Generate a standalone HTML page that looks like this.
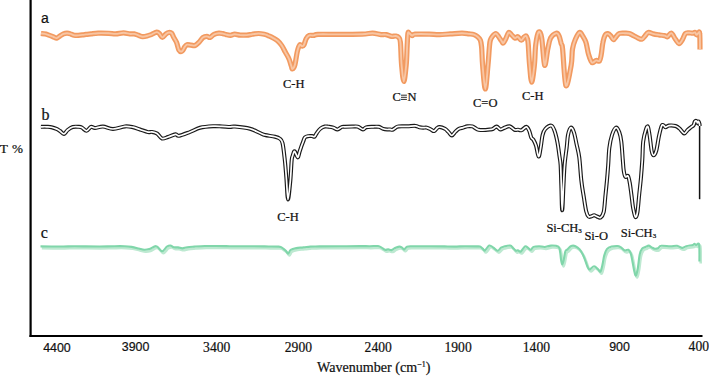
<!DOCTYPE html>
<html><head><meta charset="utf-8"><style>
html,body{margin:0;padding:0;background:#fff;}
body{width:709px;height:376px;overflow:hidden;position:relative;}
svg{position:absolute;left:0;top:0;}
.s{font-family:"Liberation Serif",serif;fill:#111;}
.n{font-family:"Liberation Sans",sans-serif;fill:#111;}
</style></head><body>
<svg width="709" height="376" viewBox="0 0 709 376">
<rect x="29.5" y="0" width="2.2" height="337" fill="#000"/>
<rect x="29.5" y="335" width="673" height="2" fill="#000"/>
<g fill="none" stroke-linejoin="round" stroke-linecap="butt">
<path d="M40.9,33.5 C41.6,33.6 43.7,33.5 45.2,33.9 C46.7,34.2 48.7,35.1 50.1,35.6 C51.5,36.1 52.5,36.6 53.6,37.0 C54.7,37.4 55.7,38.3 56.8,38.1 C57.9,37.9 58.9,36.7 60.0,36.0 C61.1,35.3 62.3,34.4 63.5,33.9 C64.7,33.4 65.8,33.2 67.0,33.2 C68.2,33.2 69.4,33.5 70.6,33.9 C71.8,34.2 72.8,35.0 74.1,35.3 C75.4,35.5 76.9,35.5 78.3,35.4 C79.7,35.3 81.2,35.1 82.5,34.9 C83.8,34.7 84.6,34.6 86.0,34.4 C87.4,34.2 89.0,34.1 91.0,33.9 C93.0,33.7 95.1,33.3 98.1,33.2 C101.0,33.1 105.8,33.2 108.7,33.3 C111.6,33.4 113.2,34.0 115.7,33.9 C118.2,33.8 121.2,32.8 123.5,32.8 C125.8,32.8 128.0,33.7 129.8,33.9 C131.6,34.1 132.8,33.7 134.2,33.9 C135.6,34.1 137.1,34.8 138.5,35.3 C139.9,35.8 141.3,36.6 142.7,36.7 C144.1,36.8 145.5,36.4 146.9,36.0 C148.3,35.6 149.5,35.2 151.2,34.6 C152.8,34.0 155.4,32.2 156.8,32.1 C158.2,32.0 158.7,33.0 159.6,33.9 C160.5,34.8 161.3,37.4 162.4,37.4 C163.5,37.4 164.9,34.7 166.0,33.9 C167.1,33.1 167.9,32.6 168.8,32.5 C169.7,32.4 170.8,32.4 171.6,33.2 C172.4,34.0 172.9,35.9 173.7,37.4 C174.5,38.9 175.6,40.2 176.5,42.3 C177.4,44.4 178.1,48.7 179.0,50.2 C179.9,51.7 181.3,51.6 182.2,51.1 C183.1,50.6 183.8,48.2 184.6,47.1 C185.4,46.0 185.9,45.0 187.0,44.7 C188.1,44.4 189.7,45.0 191.0,45.1 C192.3,45.2 193.7,46.0 195.0,45.5 C196.3,45.0 197.6,43.7 198.9,42.4 C200.2,41.1 201.6,38.6 202.9,37.6 C204.2,36.6 205.7,36.4 206.9,36.4 C208.1,36.4 208.9,37.7 210.1,37.4 C211.3,37.1 212.6,35.1 214.1,34.4 C215.6,33.7 217.4,33.3 218.9,33.2 C220.4,33.1 221.6,33.4 222.8,33.6 C224.0,33.8 224.9,34.3 226.2,34.6 C227.5,34.9 229.1,35.4 230.5,35.3 C231.9,35.2 233.1,34.2 234.7,34.2 C236.3,34.2 238.3,35.0 240.3,35.1 C242.3,35.2 244.7,35.2 246.7,35.1 C248.7,35.0 250.3,34.5 252.3,34.2 C254.3,33.9 256.7,33.5 258.7,33.5 C260.7,33.5 262.8,33.9 264.3,34.2 C265.9,34.6 266.6,35.0 268.0,35.6 C269.4,36.2 271.2,36.9 272.8,37.8 C274.4,38.7 276.1,39.5 277.6,40.8 C279.1,42.1 280.5,43.7 281.8,45.6 C283.1,47.5 284.1,49.9 285.3,52.1 C286.5,54.3 287.9,56.4 288.9,58.7 C289.9,61.0 290.7,64.2 291.3,65.9 C291.9,67.6 291.9,69.1 292.5,68.9 C293.1,68.7 294.1,67.6 294.9,64.7 C295.7,61.8 296.5,54.8 297.3,51.5 C298.1,48.2 298.9,45.9 299.7,45.0 C300.5,44.1 301.4,46.1 302.1,46.1 C302.8,46.1 303.2,46.3 303.9,45.0 C304.6,43.7 305.4,40.0 306.3,38.4 C307.2,36.8 308.1,35.9 309.3,35.4 C310.5,34.9 312.1,35.6 313.5,35.4 C314.9,35.2 314.2,34.6 318.0,34.4 C321.8,34.2 328.7,34.4 336.0,34.4 C343.3,34.4 355.9,34.4 362.0,34.2 C368.1,34.0 369.4,33.1 372.6,33.2 C375.8,33.3 378.8,34.4 381.0,34.6 C383.2,34.8 384.2,34.3 386.0,34.6 C387.8,34.9 390.0,36.1 391.6,36.3 C393.2,36.5 394.7,35.8 395.9,36.0 C397.1,36.2 397.9,36.4 398.7,37.4 C399.4,38.4 399.9,37.7 400.4,42.3 C400.9,46.9 401.0,58.5 401.6,65.0 C402.2,71.5 403.0,81.5 403.8,81.5 C404.6,81.5 405.6,71.1 406.2,65.0 C406.8,58.9 406.9,50.3 407.2,45.0 C407.5,39.7 407.6,34.9 408.0,33.0 C408.4,31.1 408.7,33.0 409.4,33.4 C410.1,33.8 411.3,35.5 412.2,35.6 C413.1,35.7 412.2,34.4 415.0,34.2 C417.8,34.0 425.1,34.1 429.2,34.2 C433.3,34.3 436.2,34.7 439.7,34.6 C443.2,34.5 446.6,34.1 450.3,33.9 C454.0,33.7 458.9,33.2 462.0,33.2 C465.1,33.2 467.1,33.7 469.1,33.9 C471.1,34.1 472.6,34.1 474.0,34.6 C475.4,35.1 476.5,35.8 477.6,36.7 C478.7,37.6 479.7,38.5 480.4,40.2 C481.1,41.9 481.2,42.9 481.6,47.0 C482.0,51.1 482.0,58.0 482.6,65.0 C483.2,72.0 484.4,89.0 485.3,89.0 C486.2,89.0 487.3,72.0 488.0,65.0 C488.7,58.0 489.0,51.1 489.4,47.0 C489.8,42.9 489.8,42.0 490.3,40.2 C490.8,38.4 491.5,37.4 492.4,36.3 C493.3,35.2 494.8,33.4 495.9,33.5 C496.9,33.6 497.8,35.5 498.7,36.7 C499.6,37.9 500.7,39.9 501.5,40.9 C502.3,41.9 502.6,43.4 503.3,43.0 C504.0,42.6 504.9,40.5 505.8,38.8 C506.7,37.0 507.7,33.2 508.6,32.5 C509.5,31.8 510.3,33.7 511.4,34.6 C512.4,35.5 513.8,37.8 514.9,38.1 C516.0,38.5 516.6,36.4 517.7,36.7 C518.8,37.1 520.2,40.2 521.3,40.2 C522.4,40.2 523.3,37.7 524.1,37.0 C524.9,36.3 525.6,35.6 526.2,36.0 C526.8,36.4 527.2,38.0 527.6,39.5 C528.0,41.0 528.0,40.8 528.3,45.0 C528.6,49.2 529.0,58.8 529.6,65.0 C530.2,71.2 530.9,82.2 531.7,82.2 C532.5,82.2 533.7,71.2 534.4,65.0 C535.1,58.8 535.0,50.5 535.7,45.0 C536.4,39.5 537.6,33.2 538.6,32.1 C539.6,31.0 540.7,32.6 541.7,38.1 C542.7,43.6 543.6,63.4 544.6,65.2 C545.6,67.0 546.8,53.5 547.8,49.0 C548.8,44.5 549.2,40.7 550.6,38.1 C552.0,35.5 554.9,33.6 556.3,33.2 C557.7,32.9 558.3,34.2 559.1,36.0 C559.9,37.8 560.6,41.5 561.2,43.7 C561.8,45.9 561.8,42.0 562.6,49.0 C563.4,56.0 564.5,82.9 565.9,85.6 C567.3,88.3 570.1,71.1 571.2,65.0 C572.3,58.9 571.8,53.2 572.5,49.0 C573.2,44.8 574.1,42.2 575.3,39.5 C576.5,36.8 578.3,33.0 579.6,32.5 C580.9,32.0 582.1,35.1 583.1,36.7 C584.1,38.3 585.0,39.5 585.9,42.3 C586.8,45.1 587.5,50.5 588.4,53.7 C589.3,56.9 590.5,60.0 591.2,61.5 C591.9,63.0 592.0,62.8 592.8,62.6 C593.6,62.4 595.1,60.7 596.2,60.4 C597.3,60.1 598.7,61.8 599.5,60.9 C600.3,60.0 600.6,57.9 601.2,54.8 C601.8,51.7 602.2,45.8 602.9,42.5 C603.5,39.2 604.3,36.8 605.1,35.3 C605.9,33.8 607.0,33.5 607.9,33.6 C608.8,33.7 609.8,34.8 610.7,35.8 C611.6,36.8 612.6,39.6 613.5,39.7 C614.4,39.8 615.3,37.5 616.3,36.4 C617.3,35.3 618.1,33.9 619.6,33.4 C621.1,32.9 623.4,33.2 625.0,33.2 C626.6,33.2 627.8,33.1 629.2,33.5 C630.6,33.9 632.1,34.9 633.5,35.6 C634.9,36.3 636.3,37.2 637.7,37.8 C639.1,38.4 640.7,39.5 641.9,39.2 C643.1,39.0 643.6,37.4 644.7,36.3 C645.8,35.2 646.9,32.9 648.3,32.5 C649.7,32.1 651.4,33.5 653.2,33.9 C655.0,34.3 657.0,34.6 658.9,34.9 C660.8,35.2 663.1,35.3 664.5,35.6 C665.9,35.9 666.2,37.2 667.4,36.8 C668.5,36.4 670.1,32.8 671.4,33.2 C672.7,33.6 674.1,37.5 675.4,39.2 C676.7,40.9 677.9,43.5 679.0,43.6 C680.1,43.7 681.1,41.7 682.2,40.0 C683.3,38.3 684.3,34.8 685.4,33.6 C686.5,32.4 687.8,32.9 689.0,32.8 C690.2,32.7 691.6,33.3 692.6,33.2 C693.6,33.1 694.4,32.1 695.0,32.4 C695.6,32.7 695.9,34.7 696.5,34.8 C697.1,34.9 698.0,33.0 698.5,32.8 C699.0,32.6 699.5,30.8 699.7,33.6 C700.0,36.4 700.0,46.9 700.0,49.6" stroke="#f29a60" stroke-width="5.2"/>
<path d="M40.9,33.5 C41.6,33.6 43.7,33.5 45.2,33.9 C46.7,34.2 48.7,35.1 50.1,35.6 C51.5,36.1 52.5,36.6 53.6,37.0 C54.7,37.4 55.7,38.3 56.8,38.1 C57.9,37.9 58.9,36.7 60.0,36.0 C61.1,35.3 62.3,34.4 63.5,33.9 C64.7,33.4 65.8,33.2 67.0,33.2 C68.2,33.2 69.4,33.5 70.6,33.9 C71.8,34.2 72.8,35.0 74.1,35.3 C75.4,35.5 76.9,35.5 78.3,35.4 C79.7,35.3 81.2,35.1 82.5,34.9 C83.8,34.7 84.6,34.6 86.0,34.4 C87.4,34.2 89.0,34.1 91.0,33.9 C93.0,33.7 95.1,33.3 98.1,33.2 C101.0,33.1 105.8,33.2 108.7,33.3 C111.6,33.4 113.2,34.0 115.7,33.9 C118.2,33.8 121.2,32.8 123.5,32.8 C125.8,32.8 128.0,33.7 129.8,33.9 C131.6,34.1 132.8,33.7 134.2,33.9 C135.6,34.1 137.1,34.8 138.5,35.3 C139.9,35.8 141.3,36.6 142.7,36.7 C144.1,36.8 145.5,36.4 146.9,36.0 C148.3,35.6 149.5,35.2 151.2,34.6 C152.8,34.0 155.4,32.2 156.8,32.1 C158.2,32.0 158.7,33.0 159.6,33.9 C160.5,34.8 161.3,37.4 162.4,37.4 C163.5,37.4 164.9,34.7 166.0,33.9 C167.1,33.1 167.9,32.6 168.8,32.5 C169.7,32.4 170.8,32.4 171.6,33.2 C172.4,34.0 172.9,35.9 173.7,37.4 C174.5,38.9 175.6,40.2 176.5,42.3 C177.4,44.4 178.1,48.7 179.0,50.2 C179.9,51.7 181.3,51.6 182.2,51.1 C183.1,50.6 183.8,48.2 184.6,47.1 C185.4,46.0 185.9,45.0 187.0,44.7 C188.1,44.4 189.7,45.0 191.0,45.1 C192.3,45.2 193.7,46.0 195.0,45.5 C196.3,45.0 197.6,43.7 198.9,42.4 C200.2,41.1 201.6,38.6 202.9,37.6 C204.2,36.6 205.7,36.4 206.9,36.4 C208.1,36.4 208.9,37.7 210.1,37.4 C211.3,37.1 212.6,35.1 214.1,34.4 C215.6,33.7 217.4,33.3 218.9,33.2 C220.4,33.1 221.6,33.4 222.8,33.6 C224.0,33.8 224.9,34.3 226.2,34.6 C227.5,34.9 229.1,35.4 230.5,35.3 C231.9,35.2 233.1,34.2 234.7,34.2 C236.3,34.2 238.3,35.0 240.3,35.1 C242.3,35.2 244.7,35.2 246.7,35.1 C248.7,35.0 250.3,34.5 252.3,34.2 C254.3,33.9 256.7,33.5 258.7,33.5 C260.7,33.5 262.8,33.9 264.3,34.2 C265.9,34.6 266.6,35.0 268.0,35.6 C269.4,36.2 271.2,36.9 272.8,37.8 C274.4,38.7 276.1,39.5 277.6,40.8 C279.1,42.1 280.5,43.7 281.8,45.6 C283.1,47.5 284.1,49.9 285.3,52.1 C286.5,54.3 287.9,56.4 288.9,58.7 C289.9,61.0 290.7,64.2 291.3,65.9 C291.9,67.6 291.9,69.1 292.5,68.9 C293.1,68.7 294.1,67.6 294.9,64.7 C295.7,61.8 296.5,54.8 297.3,51.5 C298.1,48.2 298.9,45.9 299.7,45.0 C300.5,44.1 301.4,46.1 302.1,46.1 C302.8,46.1 303.2,46.3 303.9,45.0 C304.6,43.7 305.4,40.0 306.3,38.4 C307.2,36.8 308.1,35.9 309.3,35.4 C310.5,34.9 312.1,35.6 313.5,35.4 C314.9,35.2 314.2,34.6 318.0,34.4 C321.8,34.2 328.7,34.4 336.0,34.4 C343.3,34.4 355.9,34.4 362.0,34.2 C368.1,34.0 369.4,33.1 372.6,33.2 C375.8,33.3 378.8,34.4 381.0,34.6 C383.2,34.8 384.2,34.3 386.0,34.6 C387.8,34.9 390.0,36.1 391.6,36.3 C393.2,36.5 394.7,35.8 395.9,36.0 C397.1,36.2 397.9,36.4 398.7,37.4 C399.4,38.4 399.9,37.7 400.4,42.3 C400.9,46.9 401.0,58.5 401.6,65.0 C402.2,71.5 403.0,81.5 403.8,81.5 C404.6,81.5 405.6,71.1 406.2,65.0 C406.8,58.9 406.9,50.3 407.2,45.0 C407.5,39.7 407.6,34.9 408.0,33.0 C408.4,31.1 408.7,33.0 409.4,33.4 C410.1,33.8 411.3,35.5 412.2,35.6 C413.1,35.7 412.2,34.4 415.0,34.2 C417.8,34.0 425.1,34.1 429.2,34.2 C433.3,34.3 436.2,34.7 439.7,34.6 C443.2,34.5 446.6,34.1 450.3,33.9 C454.0,33.7 458.9,33.2 462.0,33.2 C465.1,33.2 467.1,33.7 469.1,33.9 C471.1,34.1 472.6,34.1 474.0,34.6 C475.4,35.1 476.5,35.8 477.6,36.7 C478.7,37.6 479.7,38.5 480.4,40.2 C481.1,41.9 481.2,42.9 481.6,47.0 C482.0,51.1 482.0,58.0 482.6,65.0 C483.2,72.0 484.4,89.0 485.3,89.0 C486.2,89.0 487.3,72.0 488.0,65.0 C488.7,58.0 489.0,51.1 489.4,47.0 C489.8,42.9 489.8,42.0 490.3,40.2 C490.8,38.4 491.5,37.4 492.4,36.3 C493.3,35.2 494.8,33.4 495.9,33.5 C496.9,33.6 497.8,35.5 498.7,36.7 C499.6,37.9 500.7,39.9 501.5,40.9 C502.3,41.9 502.6,43.4 503.3,43.0 C504.0,42.6 504.9,40.5 505.8,38.8 C506.7,37.0 507.7,33.2 508.6,32.5 C509.5,31.8 510.3,33.7 511.4,34.6 C512.4,35.5 513.8,37.8 514.9,38.1 C516.0,38.5 516.6,36.4 517.7,36.7 C518.8,37.1 520.2,40.2 521.3,40.2 C522.4,40.2 523.3,37.7 524.1,37.0 C524.9,36.3 525.6,35.6 526.2,36.0 C526.8,36.4 527.2,38.0 527.6,39.5 C528.0,41.0 528.0,40.8 528.3,45.0 C528.6,49.2 529.0,58.8 529.6,65.0 C530.2,71.2 530.9,82.2 531.7,82.2 C532.5,82.2 533.7,71.2 534.4,65.0 C535.1,58.8 535.0,50.5 535.7,45.0 C536.4,39.5 537.6,33.2 538.6,32.1 C539.6,31.0 540.7,32.6 541.7,38.1 C542.7,43.6 543.6,63.4 544.6,65.2 C545.6,67.0 546.8,53.5 547.8,49.0 C548.8,44.5 549.2,40.7 550.6,38.1 C552.0,35.5 554.9,33.6 556.3,33.2 C557.7,32.9 558.3,34.2 559.1,36.0 C559.9,37.8 560.6,41.5 561.2,43.7 C561.8,45.9 561.8,42.0 562.6,49.0 C563.4,56.0 564.5,82.9 565.9,85.6 C567.3,88.3 570.1,71.1 571.2,65.0 C572.3,58.9 571.8,53.2 572.5,49.0 C573.2,44.8 574.1,42.2 575.3,39.5 C576.5,36.8 578.3,33.0 579.6,32.5 C580.9,32.0 582.1,35.1 583.1,36.7 C584.1,38.3 585.0,39.5 585.9,42.3 C586.8,45.1 587.5,50.5 588.4,53.7 C589.3,56.9 590.5,60.0 591.2,61.5 C591.9,63.0 592.0,62.8 592.8,62.6 C593.6,62.4 595.1,60.7 596.2,60.4 C597.3,60.1 598.7,61.8 599.5,60.9 C600.3,60.0 600.6,57.9 601.2,54.8 C601.8,51.7 602.2,45.8 602.9,42.5 C603.5,39.2 604.3,36.8 605.1,35.3 C605.9,33.8 607.0,33.5 607.9,33.6 C608.8,33.7 609.8,34.8 610.7,35.8 C611.6,36.8 612.6,39.6 613.5,39.7 C614.4,39.8 615.3,37.5 616.3,36.4 C617.3,35.3 618.1,33.9 619.6,33.4 C621.1,32.9 623.4,33.2 625.0,33.2 C626.6,33.2 627.8,33.1 629.2,33.5 C630.6,33.9 632.1,34.9 633.5,35.6 C634.9,36.3 636.3,37.2 637.7,37.8 C639.1,38.4 640.7,39.5 641.9,39.2 C643.1,39.0 643.6,37.4 644.7,36.3 C645.8,35.2 646.9,32.9 648.3,32.5 C649.7,32.1 651.4,33.5 653.2,33.9 C655.0,34.3 657.0,34.6 658.9,34.9 C660.8,35.2 663.1,35.3 664.5,35.6 C665.9,35.9 666.2,37.2 667.4,36.8 C668.5,36.4 670.1,32.8 671.4,33.2 C672.7,33.6 674.1,37.5 675.4,39.2 C676.7,40.9 677.9,43.5 679.0,43.6 C680.1,43.7 681.1,41.7 682.2,40.0 C683.3,38.3 684.3,34.8 685.4,33.6 C686.5,32.4 687.8,32.9 689.0,32.8 C690.2,32.7 691.6,33.3 692.6,33.2 C693.6,33.1 694.4,32.1 695.0,32.4 C695.6,32.7 695.9,34.7 696.5,34.8 C697.1,34.9 698.0,33.0 698.5,32.8 C699.0,32.6 699.5,30.8 699.7,33.6 C700.0,36.4 700.0,46.9 700.0,49.6" stroke="#f8c6a4" stroke-width="1.9"/>
<path d="M40.9,247.4 C44.1,247.4 54.3,247.5 60.0,247.5 C65.7,247.5 70.7,247.2 75.0,247.2 C79.3,247.2 81.8,247.3 86.0,247.4 C90.2,247.5 95.2,247.5 100.0,247.5 C104.8,247.5 110.8,247.2 115.0,247.2 C119.2,247.1 122.2,247.1 125.0,247.2 C127.8,247.3 129.7,247.5 132.0,247.9 C134.3,248.3 137.0,249.0 139.1,249.5 C141.2,250.0 142.9,250.7 144.7,250.8 C146.5,250.9 147.7,250.7 149.7,250.1 C151.7,249.5 154.6,246.8 156.7,247.2 C158.8,247.5 160.6,252.1 162.4,252.2 C164.2,252.3 165.9,248.5 167.3,247.6 C168.7,246.7 169.7,246.4 170.8,246.5 C172.0,246.6 172.9,247.9 174.2,248.2 C175.5,248.5 177.1,248.2 178.5,248.4 C179.9,248.6 181.2,249.4 182.7,249.4 C184.2,249.4 185.6,248.5 187.6,248.2 C189.6,247.9 191.8,247.8 194.7,247.6 C197.6,247.4 201.8,247.1 205.3,247.0 C208.8,246.9 211.7,247.0 215.8,247.0 C219.9,247.0 224.3,247.1 230.0,247.2 C235.7,247.2 244.2,247.3 250.0,247.3 C255.8,247.3 260.1,247.3 265.0,247.4 C269.9,247.5 276.1,247.3 279.1,247.6 C282.2,247.9 282.1,248.7 283.3,249.4 C284.5,250.1 285.3,250.9 286.2,251.8 C287.1,252.7 287.8,254.8 288.6,254.6 C289.4,254.4 289.8,251.7 291.1,250.8 C292.5,249.9 294.6,249.5 296.7,249.1 C298.8,248.7 301.4,248.7 303.8,248.4 C306.2,248.2 308.1,247.8 310.8,247.6 C313.5,247.4 315.1,247.5 320.0,247.4 C324.9,247.3 333.3,247.3 340.0,247.3 C346.7,247.2 355.0,247.1 360.0,247.1 C365.0,247.1 366.9,247.2 370.0,247.2 C373.1,247.2 376.5,246.8 378.5,247.0 C380.5,247.2 380.8,248.0 382.0,248.6 C383.2,249.2 384.4,250.5 385.5,250.8 C386.6,251.1 387.6,250.3 388.7,250.4 C389.8,250.5 390.8,251.3 391.9,251.1 C393.0,250.9 394.1,249.6 395.4,249.0 C396.7,248.4 398.4,247.7 399.6,247.6 C400.8,247.5 401.6,248.1 402.4,248.6 C403.2,249.1 403.8,250.6 404.6,250.4 C405.4,250.2 406.1,248.2 407.4,247.7 C408.7,247.2 408.5,247.3 412.3,247.2 C416.1,247.1 424.6,247.3 430.0,247.3 C435.4,247.3 440.8,247.3 445.0,247.4 C449.2,247.5 451.6,247.6 455.0,247.6 C458.4,247.6 462.1,247.2 465.6,247.2 C469.1,247.2 473.7,247.3 476.2,247.4 C478.7,247.5 479.2,247.2 480.4,247.6 C481.6,248.0 482.4,249.0 483.2,249.7 C484.0,250.3 484.2,252.0 485.3,251.5 C486.4,251.0 488.2,247.0 489.6,246.5 C491.0,246.0 492.4,247.7 493.8,248.6 C495.2,249.5 496.7,251.8 498.0,251.8 C499.3,251.8 500.5,249.3 501.5,248.6 C502.5,247.9 502.7,247.9 504.2,247.6 C505.7,247.2 509.1,246.3 510.6,246.5 C512.1,246.7 512.5,248.0 513.4,248.9 C514.3,249.8 515.4,251.3 516.2,251.7 C517.0,252.1 517.5,251.2 518.3,251.3 C519.1,251.4 520.0,253.2 521.2,252.5 C522.4,251.8 524.2,248.1 525.4,247.4 C526.6,246.8 527.3,248.0 528.2,248.6 C529.1,249.2 530.0,250.9 531.0,250.8 C532.0,250.7 532.5,248.5 533.9,247.9 C535.3,247.3 537.6,247.2 539.5,247.2 C541.4,247.2 543.1,248.1 545.1,248.0 C547.1,247.9 549.1,246.7 551.4,246.6 C553.7,246.5 557.3,246.7 558.8,247.7 C560.3,248.7 559.9,250.3 560.4,252.5 C560.9,254.7 561.1,258.8 561.5,261.0 C561.9,263.2 562.2,265.5 562.6,265.5 C563.0,265.5 563.6,263.2 564.1,261.0 C564.6,258.8 565.1,254.3 565.7,252.5 C566.3,250.7 566.9,251.3 567.9,250.4 C568.9,249.5 570.3,247.5 571.6,247.0 C572.9,246.5 574.5,246.6 575.9,247.2 C577.3,247.8 578.9,249.0 580.1,250.4 C581.3,251.8 582.4,254.0 583.3,255.7 C584.2,257.5 584.6,258.8 585.4,260.9 C586.2,263.0 587.3,266.7 588.1,268.3 C588.9,269.9 589.1,270.7 590.2,270.5 C591.3,270.3 593.1,267.3 594.5,267.3 C595.9,267.3 597.6,269.6 598.7,270.5 C599.8,271.4 600.2,273.5 600.9,272.6 C601.6,271.7 602.4,267.8 603.0,265.1 C603.6,262.4 603.9,259.1 604.6,256.6 C605.3,254.1 606.1,251.7 607.3,250.2 C608.5,248.7 610.2,248.1 612.0,247.6 C613.8,247.1 616.5,246.9 618.0,247.0 C619.5,247.1 619.8,247.4 621.0,248.1 C622.2,248.8 623.9,251.0 625.2,251.4 C626.5,251.8 627.8,250.3 628.8,250.8 C629.8,251.3 630.4,252.3 631.1,254.3 C631.8,256.3 632.3,259.7 632.9,262.7 C633.5,265.7 634.1,270.0 634.7,272.3 C635.3,274.6 635.7,277.1 636.3,276.5 C636.9,275.9 637.7,272.2 638.3,268.7 C638.9,265.2 639.4,258.7 640.1,255.5 C640.8,252.3 641.5,250.9 642.5,249.6 C643.5,248.3 645.0,248.3 646.1,247.8 C647.2,247.3 648.1,246.5 649.1,246.6 C650.1,246.7 651.1,247.9 652.1,248.4 C653.1,248.9 654.0,249.5 655.0,249.7 C656.0,249.8 657.2,249.8 658.3,249.3 C659.4,248.8 659.5,247.1 661.6,246.8 C663.7,246.4 668.1,247.2 670.8,247.2 C673.4,247.2 675.6,246.5 677.5,246.8 C679.4,247.1 680.9,248.8 682.4,248.9 C683.9,249.0 684.8,247.7 686.6,247.2 C688.4,246.7 691.9,246.4 693.3,246.0 C694.7,245.6 694.3,244.8 694.9,244.8 C695.5,244.8 695.8,245.9 696.6,246.0 C697.4,246.1 699.0,242.8 699.5,245.6 C700.0,248.4 699.8,259.8 699.8,262.6" stroke="#bde9d1" stroke-width="2.6" transform="translate(0.9,0.9)"/>
<path d="M40.9,247.4 C44.1,247.4 54.3,247.5 60.0,247.5 C65.7,247.5 70.7,247.2 75.0,247.2 C79.3,247.2 81.8,247.3 86.0,247.4 C90.2,247.5 95.2,247.5 100.0,247.5 C104.8,247.5 110.8,247.2 115.0,247.2 C119.2,247.1 122.2,247.1 125.0,247.2 C127.8,247.3 129.7,247.5 132.0,247.9 C134.3,248.3 137.0,249.0 139.1,249.5 C141.2,250.0 142.9,250.7 144.7,250.8 C146.5,250.9 147.7,250.7 149.7,250.1 C151.7,249.5 154.6,246.8 156.7,247.2 C158.8,247.5 160.6,252.1 162.4,252.2 C164.2,252.3 165.9,248.5 167.3,247.6 C168.7,246.7 169.7,246.4 170.8,246.5 C172.0,246.6 172.9,247.9 174.2,248.2 C175.5,248.5 177.1,248.2 178.5,248.4 C179.9,248.6 181.2,249.4 182.7,249.4 C184.2,249.4 185.6,248.5 187.6,248.2 C189.6,247.9 191.8,247.8 194.7,247.6 C197.6,247.4 201.8,247.1 205.3,247.0 C208.8,246.9 211.7,247.0 215.8,247.0 C219.9,247.0 224.3,247.1 230.0,247.2 C235.7,247.2 244.2,247.3 250.0,247.3 C255.8,247.3 260.1,247.3 265.0,247.4 C269.9,247.5 276.1,247.3 279.1,247.6 C282.2,247.9 282.1,248.7 283.3,249.4 C284.5,250.1 285.3,250.9 286.2,251.8 C287.1,252.7 287.8,254.8 288.6,254.6 C289.4,254.4 289.8,251.7 291.1,250.8 C292.5,249.9 294.6,249.5 296.7,249.1 C298.8,248.7 301.4,248.7 303.8,248.4 C306.2,248.2 308.1,247.8 310.8,247.6 C313.5,247.4 315.1,247.5 320.0,247.4 C324.9,247.3 333.3,247.3 340.0,247.3 C346.7,247.2 355.0,247.1 360.0,247.1 C365.0,247.1 366.9,247.2 370.0,247.2 C373.1,247.2 376.5,246.8 378.5,247.0 C380.5,247.2 380.8,248.0 382.0,248.6 C383.2,249.2 384.4,250.5 385.5,250.8 C386.6,251.1 387.6,250.3 388.7,250.4 C389.8,250.5 390.8,251.3 391.9,251.1 C393.0,250.9 394.1,249.6 395.4,249.0 C396.7,248.4 398.4,247.7 399.6,247.6 C400.8,247.5 401.6,248.1 402.4,248.6 C403.2,249.1 403.8,250.6 404.6,250.4 C405.4,250.2 406.1,248.2 407.4,247.7 C408.7,247.2 408.5,247.3 412.3,247.2 C416.1,247.1 424.6,247.3 430.0,247.3 C435.4,247.3 440.8,247.3 445.0,247.4 C449.2,247.5 451.6,247.6 455.0,247.6 C458.4,247.6 462.1,247.2 465.6,247.2 C469.1,247.2 473.7,247.3 476.2,247.4 C478.7,247.5 479.2,247.2 480.4,247.6 C481.6,248.0 482.4,249.0 483.2,249.7 C484.0,250.3 484.2,252.0 485.3,251.5 C486.4,251.0 488.2,247.0 489.6,246.5 C491.0,246.0 492.4,247.7 493.8,248.6 C495.2,249.5 496.7,251.8 498.0,251.8 C499.3,251.8 500.5,249.3 501.5,248.6 C502.5,247.9 502.7,247.9 504.2,247.6 C505.7,247.2 509.1,246.3 510.6,246.5 C512.1,246.7 512.5,248.0 513.4,248.9 C514.3,249.8 515.4,251.3 516.2,251.7 C517.0,252.1 517.5,251.2 518.3,251.3 C519.1,251.4 520.0,253.2 521.2,252.5 C522.4,251.8 524.2,248.1 525.4,247.4 C526.6,246.8 527.3,248.0 528.2,248.6 C529.1,249.2 530.0,250.9 531.0,250.8 C532.0,250.7 532.5,248.5 533.9,247.9 C535.3,247.3 537.6,247.2 539.5,247.2 C541.4,247.2 543.1,248.1 545.1,248.0 C547.1,247.9 549.1,246.7 551.4,246.6 C553.7,246.5 557.3,246.7 558.8,247.7 C560.3,248.7 559.9,250.3 560.4,252.5 C560.9,254.7 561.1,258.8 561.5,261.0 C561.9,263.2 562.2,265.5 562.6,265.5 C563.0,265.5 563.6,263.2 564.1,261.0 C564.6,258.8 565.1,254.3 565.7,252.5 C566.3,250.7 566.9,251.3 567.9,250.4 C568.9,249.5 570.3,247.5 571.6,247.0 C572.9,246.5 574.5,246.6 575.9,247.2 C577.3,247.8 578.9,249.0 580.1,250.4 C581.3,251.8 582.4,254.0 583.3,255.7 C584.2,257.5 584.6,258.8 585.4,260.9 C586.2,263.0 587.3,266.7 588.1,268.3 C588.9,269.9 589.1,270.7 590.2,270.5 C591.3,270.3 593.1,267.3 594.5,267.3 C595.9,267.3 597.6,269.6 598.7,270.5 C599.8,271.4 600.2,273.5 600.9,272.6 C601.6,271.7 602.4,267.8 603.0,265.1 C603.6,262.4 603.9,259.1 604.6,256.6 C605.3,254.1 606.1,251.7 607.3,250.2 C608.5,248.7 610.2,248.1 612.0,247.6 C613.8,247.1 616.5,246.9 618.0,247.0 C619.5,247.1 619.8,247.4 621.0,248.1 C622.2,248.8 623.9,251.0 625.2,251.4 C626.5,251.8 627.8,250.3 628.8,250.8 C629.8,251.3 630.4,252.3 631.1,254.3 C631.8,256.3 632.3,259.7 632.9,262.7 C633.5,265.7 634.1,270.0 634.7,272.3 C635.3,274.6 635.7,277.1 636.3,276.5 C636.9,275.9 637.7,272.2 638.3,268.7 C638.9,265.2 639.4,258.7 640.1,255.5 C640.8,252.3 641.5,250.9 642.5,249.6 C643.5,248.3 645.0,248.3 646.1,247.8 C647.2,247.3 648.1,246.5 649.1,246.6 C650.1,246.7 651.1,247.9 652.1,248.4 C653.1,248.9 654.0,249.5 655.0,249.7 C656.0,249.8 657.2,249.8 658.3,249.3 C659.4,248.8 659.5,247.1 661.6,246.8 C663.7,246.4 668.1,247.2 670.8,247.2 C673.4,247.2 675.6,246.5 677.5,246.8 C679.4,247.1 680.9,248.8 682.4,248.9 C683.9,249.0 684.8,247.7 686.6,247.2 C688.4,246.7 691.9,246.4 693.3,246.0 C694.7,245.6 694.3,244.8 694.9,244.8 C695.5,244.8 695.8,245.9 696.6,246.0 C697.4,246.1 699.0,242.8 699.5,245.6 C700.0,248.4 699.8,259.8 699.8,262.6" stroke="#80d6aa" stroke-width="2.1" transform="translate(-0.4,-1.0)"/>
<path d="M40.9,126.8 C41.9,126.8 44.8,126.7 46.6,126.8 C48.4,126.9 49.9,126.8 51.5,127.2 C53.1,127.6 55.1,128.3 56.5,128.9 C57.9,129.5 58.8,130.2 60.0,131.0 C61.2,131.8 62.6,134.1 63.9,133.9 C65.2,133.7 66.2,131.2 67.7,130.0 C69.2,128.8 70.9,127.5 72.7,127.0 C74.5,126.5 76.8,126.7 78.3,126.8 C79.8,126.9 80.4,126.8 81.8,127.5 C83.2,128.2 85.0,130.9 86.5,130.8 C88.0,130.7 89.6,127.4 91.0,126.9 C92.4,126.4 93.0,128.1 95.0,128.0 C97.0,128.0 100.0,126.4 103.0,126.6 C106.0,126.8 109.3,129.0 113.0,129.0 C116.7,129.0 121.7,126.7 125.0,126.4 C128.3,126.1 130.5,126.7 133.0,127.2 C135.5,127.7 137.5,128.7 140.0,129.5 C142.5,130.3 146.0,131.7 148.0,132.1 C150.0,132.5 150.5,131.7 152.0,131.9 C153.5,132.1 155.3,132.4 157.0,133.5 C158.7,134.6 160.2,137.9 162.0,138.5 C163.8,139.1 165.8,137.7 168.0,137.0 C170.2,136.3 173.7,134.5 175.5,134.3 C177.3,134.1 176.6,136.2 179.0,135.8 C181.4,135.4 186.5,133.3 190.0,132.0 C193.5,130.7 196.2,128.8 200.0,127.8 C203.8,126.8 209.3,126.4 213.0,126.2 C216.7,126.0 219.2,126.3 222.0,126.4 C224.8,126.5 227.8,126.9 230.0,126.9 C232.2,126.9 231.7,126.3 235.0,126.6 C238.3,126.9 245.8,127.7 250.0,128.8 C254.2,129.9 257.5,132.0 260.0,133.0 C262.5,134.0 262.5,134.4 265.0,135.0 C267.5,135.6 272.6,136.2 275.0,136.8 C277.4,137.4 278.2,137.5 279.5,138.5 C280.8,139.5 281.6,139.4 282.5,143.0 C283.4,146.6 284.1,153.8 284.8,160.0 C285.5,166.2 286.0,173.4 286.5,180.0 C287.0,186.6 287.4,199.5 288.0,199.5 C288.6,199.5 289.8,186.6 290.4,180.0 C291.0,173.4 291.3,164.0 291.7,160.0 C292.1,156.0 292.2,157.4 292.6,156.0 C293.0,154.6 293.7,151.6 294.3,151.3 C294.9,151.0 295.4,153.0 296.0,154.0 C296.6,155.0 297.4,157.6 298.0,157.3 C298.6,157.0 298.9,153.8 299.5,152.0 C300.1,150.2 300.7,148.4 301.3,146.6 C301.9,144.8 302.7,142.9 303.3,141.3 C303.9,139.8 304.1,138.2 305.0,137.3 C305.9,136.4 307.4,136.3 308.6,136.1 C309.8,135.9 311.1,136.0 312.1,136.1 C313.1,136.2 313.8,137.2 314.6,136.6 C315.4,136.0 316.0,134.0 317.0,132.7 C318.0,131.3 319.3,129.5 320.6,128.5 C321.9,127.5 323.5,126.8 324.8,126.5 C326.1,126.2 326.9,126.5 328.3,126.7 C329.7,126.9 331.8,127.1 333.3,127.6 C334.8,128.1 336.1,129.6 337.5,129.5 C338.9,129.4 340.4,127.5 341.7,127.0 C342.9,126.5 343.3,126.9 345.0,126.8 C346.7,126.7 349.9,126.6 352.0,126.6 C354.1,126.6 355.9,126.1 357.7,126.6 C359.5,127.1 361.6,129.4 363.0,129.5 C364.4,129.6 364.5,127.8 366.2,127.3 C367.9,126.8 371.1,126.9 373.2,126.8 C375.3,126.7 377.2,126.5 378.9,126.8 C380.5,127.1 381.7,128.4 383.1,128.8 C384.5,129.2 386.2,129.4 387.3,129.5 C388.4,129.6 389.1,129.3 390.0,129.4 C390.9,129.5 391.6,130.1 392.5,129.8 C393.4,129.5 394.6,128.3 395.6,127.7 C396.6,127.1 396.5,126.6 398.5,126.4 C400.5,126.2 404.8,126.4 407.6,126.3 C410.4,126.2 413.4,125.7 415.4,125.9 C417.4,126.1 418.3,127.0 419.6,127.3 C420.9,127.6 421.9,127.7 423.1,127.7 C424.3,127.8 425.4,127.3 426.7,127.6 C428.0,127.9 429.7,128.9 430.9,129.5 C432.1,130.1 433.1,131.3 434.1,131.1 C435.2,130.8 436.3,128.7 437.2,128.0 C438.1,127.3 438.3,126.9 439.6,127.0 C440.9,127.1 443.4,128.0 444.9,128.8 C446.4,129.6 447.2,130.8 448.4,131.9 C449.6,133.0 450.7,135.6 451.9,135.5 C453.1,135.4 454.3,132.7 455.5,131.6 C456.7,130.5 457.7,129.5 459.0,128.8 C460.3,128.1 461.8,128.0 463.2,127.6 C464.6,127.2 465.9,126.5 467.4,126.3 C468.9,126.1 471.1,126.1 472.4,126.4 C473.7,126.7 474.1,127.4 475.2,128.0 C476.2,128.6 477.0,129.5 478.7,129.8 C480.4,130.1 483.7,130.1 485.6,130.0 C487.5,129.9 488.7,129.7 489.9,129.5 C491.1,129.3 491.6,129.6 492.7,129.1 C493.8,128.6 495.3,126.5 496.6,126.6 C497.9,126.7 499.3,129.3 500.5,129.5 C501.7,129.7 502.5,128.5 504.0,128.0 C505.5,127.5 507.8,126.0 509.6,126.3 C511.4,126.6 513.2,129.2 514.6,129.8 C516.0,130.4 516.9,129.6 518.1,129.7 C519.3,129.8 520.2,130.7 521.6,130.2 C523.0,129.7 525.0,126.7 526.3,126.8 C527.6,126.9 528.5,129.2 529.3,131.0 C530.1,132.8 530.6,136.2 531.3,137.6 C532.0,139.0 532.5,138.3 533.3,139.6 C534.1,140.9 535.1,142.8 536.0,145.6 C536.9,148.4 537.8,156.1 538.6,156.5 C539.4,156.9 539.9,151.8 540.6,148.2 C541.3,144.6 541.8,138.2 542.6,135.0 C543.4,131.8 543.8,130.6 545.3,129.0 C546.8,127.4 549.8,125.3 551.3,125.6 C552.8,125.9 553.6,128.3 554.6,131.0 C555.6,133.7 556.5,137.6 557.3,141.6 C558.1,145.6 558.8,151.0 559.3,154.9 C559.8,158.8 560.3,160.0 560.6,165.0 C560.9,170.0 561.0,177.4 561.3,185.0 C561.6,192.6 561.8,210.3 562.2,210.3 C562.6,210.3 563.1,192.6 563.5,185.0 C563.9,177.4 564.1,171.1 564.6,165.0 C565.1,158.9 566.0,153.2 566.6,148.2 C567.2,143.2 567.3,138.4 568.0,135.0 C568.7,131.6 569.9,128.0 570.9,127.6 C571.9,127.1 572.9,129.5 573.9,132.3 C574.9,135.1 575.7,140.1 576.6,144.3 C577.5,148.5 578.5,151.5 579.3,157.6 C580.1,163.7 580.6,174.4 581.4,181.0 C582.1,187.6 583.0,191.8 583.8,196.9 C584.6,202.0 585.4,208.0 586.2,211.3 C587.0,214.6 587.7,215.8 588.6,216.6 C589.5,217.4 590.6,216.5 591.5,216.3 C592.4,216.1 593.2,215.2 594.1,215.2 C595.0,215.2 595.9,216.1 597.0,216.5 C598.1,216.9 599.4,218.3 600.5,217.6 C601.6,216.8 602.9,215.4 603.7,212.0 C604.5,208.6 604.8,202.1 605.3,196.9 C605.8,191.7 606.4,186.3 606.9,181.0 C607.4,175.7 607.8,170.5 608.2,165.0 C608.6,159.5 608.7,153.2 609.3,148.2 C609.9,143.2 610.9,138.4 612.0,135.0 C613.1,131.6 614.8,128.0 616.0,127.6 C617.2,127.1 618.4,130.0 619.3,132.3 C620.2,134.6 620.7,137.0 621.3,141.6 C621.9,146.2 622.4,155.2 622.8,160.0 C623.2,164.8 623.3,167.6 623.7,170.4 C624.1,173.2 624.7,175.9 625.4,176.8 C626.1,177.7 627.3,175.1 628.0,176.0 C628.7,176.9 629.1,179.4 629.7,182.5 C630.3,185.6 630.8,190.3 631.4,194.6 C632.0,198.9 632.5,204.7 633.2,208.4 C633.9,212.1 634.7,216.4 635.4,217.0 C636.1,217.6 636.9,215.6 637.5,211.9 C638.1,208.2 638.6,200.4 639.2,194.6 C639.8,188.8 640.5,183.1 641.0,177.3 C641.5,171.5 641.9,165.9 642.3,160.0 C642.7,154.1 642.6,146.7 643.2,141.6 C643.8,136.5 645.1,132.1 645.9,129.6 C646.7,127.1 647.3,125.7 647.9,126.7 C648.5,127.8 649.1,131.9 649.7,135.9 C650.3,139.9 651.0,147.4 651.6,150.6 C652.2,153.8 652.8,155.3 653.6,155.3 C654.4,155.3 655.4,153.8 656.3,150.6 C657.2,147.4 658.1,140.0 659.0,135.9 C659.9,131.8 660.8,127.8 661.6,126.0 C662.4,124.2 662.9,125.1 663.6,125.3 C664.3,125.5 664.7,127.2 665.6,127.3 C666.5,127.3 667.2,125.8 668.9,125.6 C670.6,125.4 673.8,125.5 675.6,126.0 C677.4,126.5 678.2,127.3 679.6,128.6 C681.0,129.8 682.9,133.3 684.2,133.5 C685.5,133.7 686.5,131.0 687.6,130.0 C688.7,129.0 689.9,128.1 690.9,127.3 C691.9,126.5 692.8,126.3 693.5,125.3 C694.2,124.3 694.4,122.2 694.9,121.5 C695.4,120.8 696.1,120.8 696.5,121.0 C696.9,121.2 697.2,122.9 697.5,123.0 C697.8,123.1 698.2,121.3 698.5,121.5 C698.8,121.7 699.3,123.2 699.5,124.0 C699.7,124.8 699.6,125.7 699.6,126.0" stroke="#1a1a1a" stroke-width="4.0"/>
<path d="M40.9,126.8 C41.9,126.8 44.8,126.7 46.6,126.8 C48.4,126.9 49.9,126.8 51.5,127.2 C53.1,127.6 55.1,128.3 56.5,128.9 C57.9,129.5 58.8,130.2 60.0,131.0 C61.2,131.8 62.6,134.1 63.9,133.9 C65.2,133.7 66.2,131.2 67.7,130.0 C69.2,128.8 70.9,127.5 72.7,127.0 C74.5,126.5 76.8,126.7 78.3,126.8 C79.8,126.9 80.4,126.8 81.8,127.5 C83.2,128.2 85.0,130.9 86.5,130.8 C88.0,130.7 89.6,127.4 91.0,126.9 C92.4,126.4 93.0,128.1 95.0,128.0 C97.0,128.0 100.0,126.4 103.0,126.6 C106.0,126.8 109.3,129.0 113.0,129.0 C116.7,129.0 121.7,126.7 125.0,126.4 C128.3,126.1 130.5,126.7 133.0,127.2 C135.5,127.7 137.5,128.7 140.0,129.5 C142.5,130.3 146.0,131.7 148.0,132.1 C150.0,132.5 150.5,131.7 152.0,131.9 C153.5,132.1 155.3,132.4 157.0,133.5 C158.7,134.6 160.2,137.9 162.0,138.5 C163.8,139.1 165.8,137.7 168.0,137.0 C170.2,136.3 173.7,134.5 175.5,134.3 C177.3,134.1 176.6,136.2 179.0,135.8 C181.4,135.4 186.5,133.3 190.0,132.0 C193.5,130.7 196.2,128.8 200.0,127.8 C203.8,126.8 209.3,126.4 213.0,126.2 C216.7,126.0 219.2,126.3 222.0,126.4 C224.8,126.5 227.8,126.9 230.0,126.9 C232.2,126.9 231.7,126.3 235.0,126.6 C238.3,126.9 245.8,127.7 250.0,128.8 C254.2,129.9 257.5,132.0 260.0,133.0 C262.5,134.0 262.5,134.4 265.0,135.0 C267.5,135.6 272.6,136.2 275.0,136.8 C277.4,137.4 278.2,137.5 279.5,138.5 C280.8,139.5 281.6,139.4 282.5,143.0 C283.4,146.6 284.1,153.8 284.8,160.0 C285.5,166.2 286.0,173.4 286.5,180.0 C287.0,186.6 287.4,199.5 288.0,199.5 C288.6,199.5 289.8,186.6 290.4,180.0 C291.0,173.4 291.3,164.0 291.7,160.0 C292.1,156.0 292.2,157.4 292.6,156.0 C293.0,154.6 293.7,151.6 294.3,151.3 C294.9,151.0 295.4,153.0 296.0,154.0 C296.6,155.0 297.4,157.6 298.0,157.3 C298.6,157.0 298.9,153.8 299.5,152.0 C300.1,150.2 300.7,148.4 301.3,146.6 C301.9,144.8 302.7,142.9 303.3,141.3 C303.9,139.8 304.1,138.2 305.0,137.3 C305.9,136.4 307.4,136.3 308.6,136.1 C309.8,135.9 311.1,136.0 312.1,136.1 C313.1,136.2 313.8,137.2 314.6,136.6 C315.4,136.0 316.0,134.0 317.0,132.7 C318.0,131.3 319.3,129.5 320.6,128.5 C321.9,127.5 323.5,126.8 324.8,126.5 C326.1,126.2 326.9,126.5 328.3,126.7 C329.7,126.9 331.8,127.1 333.3,127.6 C334.8,128.1 336.1,129.6 337.5,129.5 C338.9,129.4 340.4,127.5 341.7,127.0 C342.9,126.5 343.3,126.9 345.0,126.8 C346.7,126.7 349.9,126.6 352.0,126.6 C354.1,126.6 355.9,126.1 357.7,126.6 C359.5,127.1 361.6,129.4 363.0,129.5 C364.4,129.6 364.5,127.8 366.2,127.3 C367.9,126.8 371.1,126.9 373.2,126.8 C375.3,126.7 377.2,126.5 378.9,126.8 C380.5,127.1 381.7,128.4 383.1,128.8 C384.5,129.2 386.2,129.4 387.3,129.5 C388.4,129.6 389.1,129.3 390.0,129.4 C390.9,129.5 391.6,130.1 392.5,129.8 C393.4,129.5 394.6,128.3 395.6,127.7 C396.6,127.1 396.5,126.6 398.5,126.4 C400.5,126.2 404.8,126.4 407.6,126.3 C410.4,126.2 413.4,125.7 415.4,125.9 C417.4,126.1 418.3,127.0 419.6,127.3 C420.9,127.6 421.9,127.7 423.1,127.7 C424.3,127.8 425.4,127.3 426.7,127.6 C428.0,127.9 429.7,128.9 430.9,129.5 C432.1,130.1 433.1,131.3 434.1,131.1 C435.2,130.8 436.3,128.7 437.2,128.0 C438.1,127.3 438.3,126.9 439.6,127.0 C440.9,127.1 443.4,128.0 444.9,128.8 C446.4,129.6 447.2,130.8 448.4,131.9 C449.6,133.0 450.7,135.6 451.9,135.5 C453.1,135.4 454.3,132.7 455.5,131.6 C456.7,130.5 457.7,129.5 459.0,128.8 C460.3,128.1 461.8,128.0 463.2,127.6 C464.6,127.2 465.9,126.5 467.4,126.3 C468.9,126.1 471.1,126.1 472.4,126.4 C473.7,126.7 474.1,127.4 475.2,128.0 C476.2,128.6 477.0,129.5 478.7,129.8 C480.4,130.1 483.7,130.1 485.6,130.0 C487.5,129.9 488.7,129.7 489.9,129.5 C491.1,129.3 491.6,129.6 492.7,129.1 C493.8,128.6 495.3,126.5 496.6,126.6 C497.9,126.7 499.3,129.3 500.5,129.5 C501.7,129.7 502.5,128.5 504.0,128.0 C505.5,127.5 507.8,126.0 509.6,126.3 C511.4,126.6 513.2,129.2 514.6,129.8 C516.0,130.4 516.9,129.6 518.1,129.7 C519.3,129.8 520.2,130.7 521.6,130.2 C523.0,129.7 525.0,126.7 526.3,126.8 C527.6,126.9 528.5,129.2 529.3,131.0 C530.1,132.8 530.6,136.2 531.3,137.6 C532.0,139.0 532.5,138.3 533.3,139.6 C534.1,140.9 535.1,142.8 536.0,145.6 C536.9,148.4 537.8,156.1 538.6,156.5 C539.4,156.9 539.9,151.8 540.6,148.2 C541.3,144.6 541.8,138.2 542.6,135.0 C543.4,131.8 543.8,130.6 545.3,129.0 C546.8,127.4 549.8,125.3 551.3,125.6 C552.8,125.9 553.6,128.3 554.6,131.0 C555.6,133.7 556.5,137.6 557.3,141.6 C558.1,145.6 558.8,151.0 559.3,154.9 C559.8,158.8 560.3,160.0 560.6,165.0 C560.9,170.0 561.0,177.4 561.3,185.0 C561.6,192.6 561.8,210.3 562.2,210.3 C562.6,210.3 563.1,192.6 563.5,185.0 C563.9,177.4 564.1,171.1 564.6,165.0 C565.1,158.9 566.0,153.2 566.6,148.2 C567.2,143.2 567.3,138.4 568.0,135.0 C568.7,131.6 569.9,128.0 570.9,127.6 C571.9,127.1 572.9,129.5 573.9,132.3 C574.9,135.1 575.7,140.1 576.6,144.3 C577.5,148.5 578.5,151.5 579.3,157.6 C580.1,163.7 580.6,174.4 581.4,181.0 C582.1,187.6 583.0,191.8 583.8,196.9 C584.6,202.0 585.4,208.0 586.2,211.3 C587.0,214.6 587.7,215.8 588.6,216.6 C589.5,217.4 590.6,216.5 591.5,216.3 C592.4,216.1 593.2,215.2 594.1,215.2 C595.0,215.2 595.9,216.1 597.0,216.5 C598.1,216.9 599.4,218.3 600.5,217.6 C601.6,216.8 602.9,215.4 603.7,212.0 C604.5,208.6 604.8,202.1 605.3,196.9 C605.8,191.7 606.4,186.3 606.9,181.0 C607.4,175.7 607.8,170.5 608.2,165.0 C608.6,159.5 608.7,153.2 609.3,148.2 C609.9,143.2 610.9,138.4 612.0,135.0 C613.1,131.6 614.8,128.0 616.0,127.6 C617.2,127.1 618.4,130.0 619.3,132.3 C620.2,134.6 620.7,137.0 621.3,141.6 C621.9,146.2 622.4,155.2 622.8,160.0 C623.2,164.8 623.3,167.6 623.7,170.4 C624.1,173.2 624.7,175.9 625.4,176.8 C626.1,177.7 627.3,175.1 628.0,176.0 C628.7,176.9 629.1,179.4 629.7,182.5 C630.3,185.6 630.8,190.3 631.4,194.6 C632.0,198.9 632.5,204.7 633.2,208.4 C633.9,212.1 634.7,216.4 635.4,217.0 C636.1,217.6 636.9,215.6 637.5,211.9 C638.1,208.2 638.6,200.4 639.2,194.6 C639.8,188.8 640.5,183.1 641.0,177.3 C641.5,171.5 641.9,165.9 642.3,160.0 C642.7,154.1 642.6,146.7 643.2,141.6 C643.8,136.5 645.1,132.1 645.9,129.6 C646.7,127.1 647.3,125.7 647.9,126.7 C648.5,127.8 649.1,131.9 649.7,135.9 C650.3,139.9 651.0,147.4 651.6,150.6 C652.2,153.8 652.8,155.3 653.6,155.3 C654.4,155.3 655.4,153.8 656.3,150.6 C657.2,147.4 658.1,140.0 659.0,135.9 C659.9,131.8 660.8,127.8 661.6,126.0 C662.4,124.2 662.9,125.1 663.6,125.3 C664.3,125.5 664.7,127.2 665.6,127.3 C666.5,127.3 667.2,125.8 668.9,125.6 C670.6,125.4 673.8,125.5 675.6,126.0 C677.4,126.5 678.2,127.3 679.6,128.6 C681.0,129.8 682.9,133.3 684.2,133.5 C685.5,133.7 686.5,131.0 687.6,130.0 C688.7,129.0 689.9,128.1 690.9,127.3 C691.9,126.5 692.8,126.3 693.5,125.3 C694.2,124.3 694.4,122.2 694.9,121.5 C695.4,120.8 696.1,120.8 696.5,121.0 C696.9,121.2 697.2,122.9 697.5,123.0 C697.8,123.1 698.2,121.3 698.5,121.5 C698.8,121.7 699.3,123.2 699.5,124.0 C699.7,124.8 699.6,125.7 699.6,126.0" stroke="#fff" stroke-width="1.7"/>
<path d="M699.6,126 L699.6,199.2" stroke="#111" stroke-width="1.5"/>
</g>
<rect x="401" y="94.7" width="5.9" height="0.95" fill="#222"/><rect x="401" y="96.8" width="5.9" height="0.95" fill="#222"/><rect x="401" y="98.9" width="5.9" height="0.95" fill="#222"/>
<g stroke="#111" stroke-width="0.22">
<text class="n" x="41" y="23" font-size="14">a</text>
<text class="s" x="41.5" y="119.5" font-size="16">b</text>
<text class="s" x="40.7" y="238" font-size="16">c</text>
<text class="s" x="-0.2" y="152.8" font-size="13.3">T</text><text class="s" x="12" y="152.8" font-size="13.2">%</text>
<g class="s" font-size="12.5">
<text x="283" y="87.7">C-H</text>
<text x="392.5" y="101.3">C</text><text x="407.6" y="101.3">N</text>
<text x="473" y="106.8">C=O</text>
<text x="522" y="99.8">C-H</text>
<text x="277.2" y="220.8">C-H</text>
<text x="546.4" y="231.5">Si-CH<tspan font-size="7" dy="1.2">3</tspan></text>
<text x="584.4" y="240.2">Si-O</text>
<text x="620.7" y="237">Si-CH<tspan font-size="7" dy="1.2">3</tspan></text>
</g>
<g class="s" font-size="13.6">
<text x="203.1" y="351.5">3400</text>
<text x="284.8" y="351.8">2900</text>
<text x="364.6" y="351.5">2400</text>
<text x="444.5" y="351.5">1900</text>
<text x="522.8" y="351.5">1400</text>
<text x="688.6" y="351">400</text>
</g>
<g class="n" font-size="12.4">
<text x="43.2" y="351.5">4400</text>
<text x="121.8" y="350.7">3900</text>
<text x="609.2" y="351">900</text>
</g>
<text class="s" x="317" y="372.2" font-size="14.1">Wavenumber (cm<tspan font-size="8" dy="-5.5">−1</tspan><tspan dy="5.5">)</tspan></text>
</g>
</svg>
</body></html>
